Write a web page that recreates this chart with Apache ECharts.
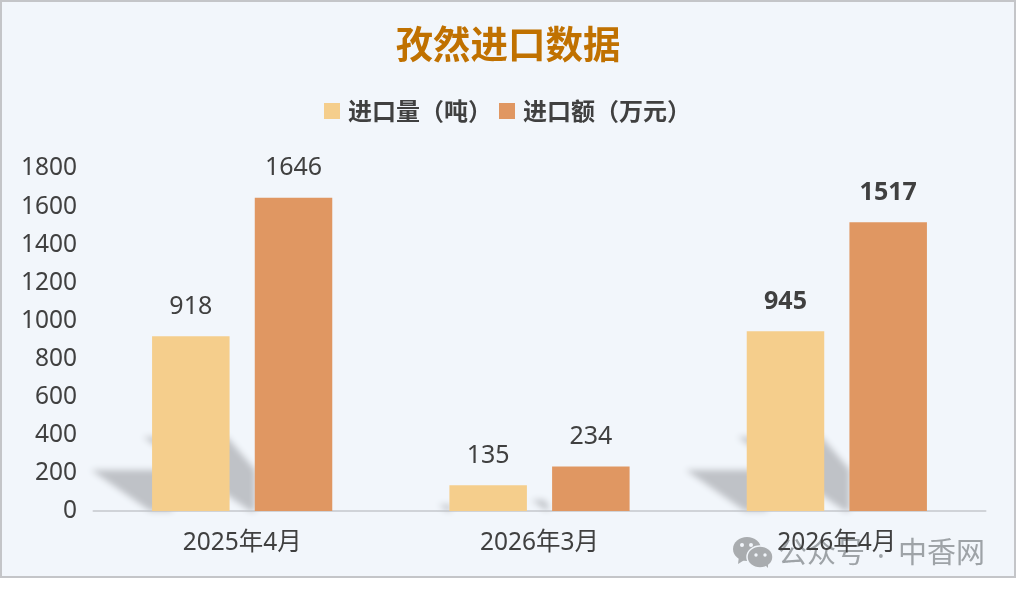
<!DOCTYPE html>
<html>
<head>
<meta charset="utf-8">
<style>
html,body{margin:0;padding:0;background:#fff;}
#frame{position:absolute;left:0;top:0;width:1012px;height:574px;border:2px solid #c4c5c8;background:#f2f6fb;}
#chart{position:absolute;left:0;top:0;width:1016px;height:595px;}
</style>
<script src="https://cdn.jsdelivr.net/npm/echarts@6/dist/echarts.min.js"></script>
</head>
<body>
<div id="frame"></div>
<div id="chart"></div>
<script>
const titleText = '孜然进口数据';
const categories = ['2025年4月', '2026年3月', '2026年4月'];
const seriesNames = ['进口量（吨）', '进口额（万元）'];
const volume = [918, 135, 945];
const amount = [1646, 234, 1517];
const boldCategories = ['2026年4月'];
const shadowSizes = [1, 0.15, 1];
const watermarkLeft = '公众号';
const watermarkDot = '·';
const watermarkRight = '中香网';

const FONT = '"Noto Sans","Noto Sans CJK SC",sans-serif';
const CJK = '"Noto Sans CJK SC",sans-serif';
const INK = '#404040';
const SHADOW = '#bfc2c7';
const WM = 'rgba(125,130,135,0.72)';
const SHIFT = 3000;
const SHADOW_SHAPES = [
  { anchor: -92, pts: [[-59, 41], [22, 41], [22, 0], [0, 0]] },
  { anchor: 8, pts: [[-107, 74], [-23, 74], [5, 41], [5, 0], [0, 0]] }
];

function barSeries(name, values, color) {
  return {
    name, type: 'bar', z: 3,
    barWidth: 77.5, barGap: '32.5%',
    itemStyle: { color },
    label: { show: true, position: 'top', distance: 17, fontSize: 25, fontFamily: FONT, color: INK },
    data: values.map((v, i) => ({
      value: v,
      label: { fontWeight: boldCategories.includes(categories[i]) ? 'bold' : 'normal' }
    }))
  };
}

const chart = echarts.init(document.getElementById('chart'), null, { renderer: 'canvas' });
chart.setOption({
  animation: false,
  backgroundColor: 'transparent',
  title: {
    text: titleText, left: 'center', top: 20,
    textStyle: { fontSize: 37.5, fontWeight: 'bold', color: '#c07100', fontFamily: CJK }
  },
  legend: {
    data: seriesNames, left: 324, top: 99, padding: 0,
    itemWidth: 16, itemHeight: 16, itemGap: 7, icon: 'rect',
    textStyle: { fontSize: 24, fontWeight: 'bold', color: INK, fontFamily: CJK, padding: [0, 0, 0, 3] }
  },
  grid: { left: 93.5, right: 30.5, top: 168.5, bottom: 84 },
  xAxis: {
    type: 'category', data: categories,
    axisTick: { show: false },
    axisLine: { lineStyle: { color: '#d0d3d8', width: 2 } },
    axisLabel: { fontSize: 24.5, color: INK, fontFamily: FONT, margin: 20 }
  },
  yAxis: {
    type: 'value', min: 0, max: 1800, interval: 200,
    axisLine: { show: false }, axisTick: { show: false }, splitLine: { show: false },
    axisLabel: { fontSize: 24.5, color: INK, fontFamily: FONT, margin: 16.5, padding: [7, 0, 0, 0], formatter: v => String(v) }
  },
  series: [
    {
      type: 'custom', name: 'shadow', silent: true, z: 1, clip: false,
      encode: { x: 0, y: 1 },
      data: categories.map((c, i) => [c, 0, shadowSizes[i]]),
      renderItem(params, api) {
        const base = api.coord([api.value(0), 0]);
        const s = api.value(2);
        return {
          type: 'group',
          children: SHADOW_SHAPES.map(shape => ({
            type: 'polygon',
            shape: { points: shape.pts.map(p => [base[0] + shape.anchor + p[0] * s - SHIFT, base[1] - p[1] * s]) },
            style: { fill: SHADOW, shadowBlur: 6, shadowColor: SHADOW, shadowOffsetX: SHIFT }
          }))
        };
      }
    },
    barSeries(seriesNames[0], volume, '#f5ce8c'),
    barSeries(seriesNames[1], amount, '#e09762')
  ],
  graphic: [
    { type: 'ellipse', z: 0, shape: { cx: 747, cy: 549, rx: 14, ry: 12 }, style: { fill: '#a9acaf' } },
    { type: 'polygon', z: 0, shape: { points: [[739, 556], [738, 564], [746, 559]] }, style: { fill: '#a9acaf' } },
    { type: 'ellipse', z: 0, shape: { cx: 760, cy: 557, rx: 13, ry: 11 }, style: { fill: '#a9acaf', stroke: '#f2f6fb', lineWidth: 1.5 } },
    { type: 'polygon', z: 0, shape: { points: [[764, 564], [768, 568], [768, 562]] }, style: { fill: '#a9acaf' } },
    { type: 'circle', z: 0, shape: { cx: 742, cy: 545, r: 2 }, style: { fill: '#f2f6fb' } },
    { type: 'circle', z: 0, shape: { cx: 751, cy: 545, r: 2 }, style: { fill: '#f2f6fb' } },
    { type: 'circle', z: 0, shape: { cx: 756, cy: 555, r: 1.7 }, style: { fill: '#f2f6fb' } },
    { type: 'circle', z: 0, shape: { cx: 765, cy: 555, r: 1.7 }, style: { fill: '#f2f6fb' } },
    { type: 'text', z: 0, left: 778, top: 537, style: { text: watermarkLeft, fontSize: 29, fill: WM, fontFamily: CJK } },
    { type: 'text', z: 0, left: 877, top: 543, style: { text: watermarkDot, fontSize: 29, fill: WM, fontFamily: FONT } },
    { type: 'text', z: 0, left: 898, top: 537, style: { text: watermarkRight, fontSize: 29, fill: WM, fontFamily: CJK } }
  ]
});
</script>
</body>
</html>
